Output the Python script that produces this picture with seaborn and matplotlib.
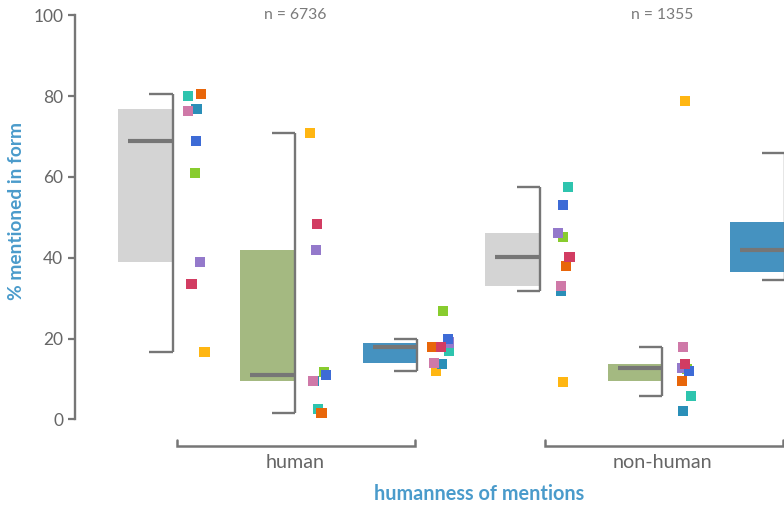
import numpy as np
import pandas as pd
import matplotlib
matplotlib.use("Agg")
import matplotlib.pyplot as plt
import seaborn as sns

# ---- data -------------------------------------------------------------
groups = ["human", "non-human"]
group_counts = ["n = 6736", "n = 1355"]
subsets = ["a", "b", "c"]            # three boxes inside each group

# per-source shares (% mentioned in form) for slots human-a, human-b,
# human-c, non-human-a, non-human-b; listed in drawing order
sources = ["teal", "orange", "green", "purple", "yellow",
           "darkteal", "blue", "pink", "red"]
teal     = [80.0,  2.5, 16.9, 57.5,  5.8]
orange   = [80.6,  1.6, 17.8, 37.9,  9.5]
green    = [60.9, 11.7, 26.8, 45.1, 12.5]
purple   = [38.9, 41.9, 19.0, 46.1, 12.7]
yellow   = [16.7, 70.9, 11.95, 9.2, 78.8]
darkteal = [76.8,  9.5, 13.7, 31.8,  2.05]
blue     = [68.9, 11.0, 19.9, 53.0, 12.0]
pink     = [76.3,  9.5, 13.95, 33.0, 17.9]
red      = [33.5, 48.3, 18.0, 40.2, 13.7]

# box summaries for all six slots
box_lo  = [16.7,  1.6, 12.0, 31.8,  5.8, 34.6]
box_q1  = [39.0,  9.5, 14.0, 32.9,  9.5, 36.5]
box_med = [69.0, 10.9, 17.8, 40.2, 12.7, 41.9]
box_q3  = [76.8, 41.9, 18.9, 46.1, 13.7, 48.8]
box_hi  = [80.5, 70.9, 20.0, 57.5, 17.9, 65.9]

# ---- styling ----------------------------------------------------------
source_colors = {
    "teal": "#2EC4AE", "orange": "#E8660A", "green": "#88CC2E",
    "purple": "#9479CB", "yellow": "#FFB612", "darkteal": "#2A8FB8",
    "blue": "#3D6BD6", "pink": "#CF79A8", "red": "#D23C62",
}
box_colors = ["#D4D4D4", "#A4B981", "#4592C0"]
line_gray = "#767676"
text_gray = "#666666"
label_blue = "#4A9BCB"

sns.set_theme(style="white")
plt.rcParams["font.family"] = ["Lato", "DejaVu Sans"]

BOX_W = 0.445      # box width (box sits left of its whisker line)
MED_INSET = 0.08   # median line starts this far inside the box
CAP = 0.19         # whisker cap length
PT_OFF = 0.19      # offset of the point cloud right of the whisker

values = [teal, orange, green, purple, yellow, darkteal, blue, pink, red]
rows = []
for slot in range(len(teal)):
    for name, vals in zip(sources, values):
        rows.append({"slot": slot + PT_OFF, "value": vals[slot], "source": name})
df = pd.DataFrame(rows)

fig = plt.figure(figsize=(7.84, 5.05), dpi=100)
W, H = 784, 505
ax = fig.add_axes([75 / W, 1 - 419.3 / H, 1 - 75 / W, (419.3 - 15.3) / H])

# boxes, medians and bracket-style whiskers
for i in range(len(box_med)):
    c = box_colors[i % 3]
    ax.bar(i - BOX_W, box_q3[i] - box_q1[i], bottom=box_q1[i], width=BOX_W,
           align="edge", color=c, linewidth=0, zorder=1)
    ax.hlines(box_med[i], i - BOX_W + MED_INSET, i, color=line_gray,
              linewidth=3.0, zorder=2)
    ax.vlines(i, box_lo[i], box_hi[i], color=line_gray, linewidth=1.7, zorder=2)
    ax.hlines([box_lo[i], box_hi[i]], i - CAP, i, color=line_gray,
              linewidth=1.7, zorder=2)

np.random.seed(7)
sns.stripplot(data=df, x="slot", y="value", hue="source",
              palette=source_colors, native_scale=True, jitter=0.075,
              marker="s", size=7.3, linewidth=0, legend=False,
              ax=ax, zorder=3, clip_on=False)

ax.set_xlim(-0.796, 4.992)
ax.set_ylim(0, 100)
ax.set_xlabel("")
ax.set_ylabel("")
ax.set_xticks([])
ax.set_yticks([0, 20, 40, 60, 80, 100])
ax.tick_params(axis="y", left=True, length=5, width=1.6, color=line_gray,
               labelcolor=text_gray, labelsize=12.5, pad=3.5)
for s in ["top", "right", "bottom"]:
    ax.spines[s].set_visible(False)
ax.spines["left"].set_color(line_gray)
ax.spines["left"].set_linewidth(1.7)

# group brackets, labels and counts
for g, (name, count) in enumerate(zip(groups, group_counts)):
    x0, x1 = 3 * g + 0.04, 3 * g + 1.98
    ax.plot([x0, x0, x1, x1], [-5.2, -6.6, -6.6, -5.2], color=line_gray,
            linewidth=1.8, clip_on=False, solid_joinstyle="miter")
    ax.text(3 * g + 1, -10.6, name, ha="center", va="center",
            fontsize=14.2, color=text_gray, clip_on=False)
    ax.text(3 * g + 1, 100, count, ha="center", va="center",
            fontsize=11.3, color="#7a7a7a")

ax.text(2.5, -18.5, "humanness of mentions", ha="center", va="center",
        fontsize=14.3, fontweight="bold", color=label_blue, clip_on=False)
fig.text(17 / W, 1 - 211 / H, "% mentioned in form", rotation=90,
         ha="center", va="center", fontsize=13.8, fontweight="bold",
         color=label_blue)

fig.savefig("out.png", dpi=100)
